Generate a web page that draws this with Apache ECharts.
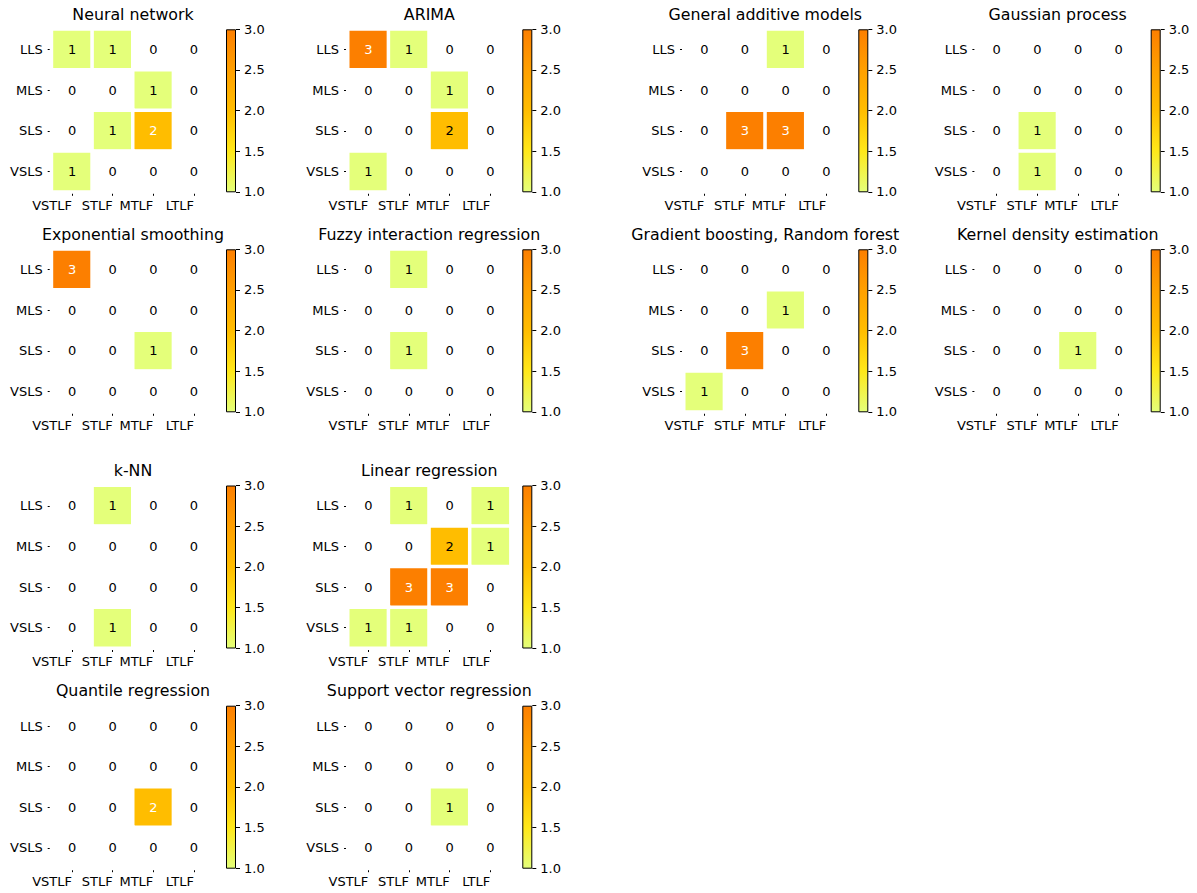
<!DOCTYPE html>
<html>
<head>
<meta charset="utf-8">
<script src="https://cdn.jsdelivr.net/npm/echarts@6/dist/echarts.min.js"></script>
<style>
html,body{margin:0;padding:0;background:#fff;}
#c{width:1197px;height:893px;}
</style>
</head>
<body>
<div id="c"></div>
<script>
// ---- data ----
const xCats = ['VSTLF', 'STLF', 'MTLF', 'LTLF'];
const yCats = ['LLS', 'MLS', 'SLS', 'VSLS'];
const panelTitles = [
  'Neural network', 'ARIMA', 'General additive models', 'Gaussian process',
  'Exponential smoothing', 'Fuzzy interaction regression', 'Gradient boosting, Random forest', 'Kernel density estimation',
  'k-NN', 'Linear regression',
  'Quantile regression', 'Support vector regression'
];
// rows: LLS, MLS, SLS, VSLS ; cols: VSTLF, STLF, MTLF, LTLF
const neuralNetwork = [[1,1,0,0],[0,0,1,0],[0,1,2,0],[1,0,0,0]];
const arima = [[3,1,0,0],[0,0,1,0],[0,0,2,0],[1,0,0,0]];
const generalAdditive = [[0,0,1,0],[0,0,0,0],[0,3,3,0],[0,0,0,0]];
const gaussianProcess = [[0,0,0,0],[0,0,0,0],[0,1,0,0],[0,1,0,0]];
const expSmoothing = [[3,0,0,0],[0,0,0,0],[0,0,1,0],[0,0,0,0]];
const fuzzyInteraction = [[0,1,0,0],[0,0,0,0],[0,1,0,0],[0,0,0,0]];
const gradientBoosting = [[0,0,0,0],[0,0,1,0],[0,3,0,0],[1,0,0,0]];
const kernelDensity = [[0,0,0,0],[0,0,0,0],[0,0,1,0],[0,0,0,0]];
const knn = [[0,1,0,0],[0,0,0,0],[0,0,0,0],[0,1,0,0]];
const linearRegression = [[0,1,0,1],[0,0,2,1],[0,3,3,0],[1,1,0,0]];
const quantileRegression = [[0,0,0,0],[0,0,0,0],[0,0,2,0],[0,0,0,0]];
const svr = [[0,0,0,0],[0,0,0,0],[0,0,1,0],[0,0,0,0]];
const panelValues = [neuralNetwork, arima, generalAdditive, gaussianProcess,
  expSmoothing, fuzzyInteraction, gradientBoosting, kernelDensity,
  knn, linearRegression, quantileRegression, svr];
const cbarTicks = [1.0, 1.5, 2.0, 2.5, 3.0];

// ---- style / layout ----
const wistia = ['#e4ff7a', '#ffe81a', '#ffbd00', '#ffa000', '#fc7f00'];
const FONT = 'DejaVu Sans';
const colLefts = [51.7, 348, 684, 976.4];
const rowTops = [29.3, 249.3, 485.5, 705.7];
const panelPos = [[0,0],[0,1],[0,2],[0,3],[1,0],[1,1],[1,2],[1,3],[2,0],[2,1],[3,0],[3,1]];
const GW = 162.6, GH = 162.5, CB_OFF = 174.3, CB_W = 10;

const grid = [], xAxis = [], yAxis = [], series = [], title = [];
const heatIdx = [];

panelValues.forEach((vals, p) => {
  const [r, c] = panelPos[p];
  const left = colLefts[c], top = rowTops[r];
  let maxV = 0;
  vals.forEach(row => row.forEach(v => { if (v > maxV) maxV = v; }));
  // heatmap grid
  const gi = grid.length;
  grid.push({left: left, top: top, width: GW, height: GH, containLabel: false});
  xAxis.push({
    type: 'category', data: xCats, gridIndex: gi, position: 'bottom',
    axisLine: {show: false},
    axisTick: {show: true, alignWithLabel: true, length: 4, lineStyle: {color: '#000', width: 1}},
    axisLabel: {align: 'right', margin: 7, fontSize: 13, color: '#000', fontFamily: FONT, interval: 0},
    splitLine: {show: false}, splitArea: {show: false}
  });
  yAxis.push({
    type: 'category', data: yCats, gridIndex: gi, inverse: true,
    axisLine: {show: false},
    axisTick: {show: true, alignWithLabel: true, length: 4, lineStyle: {color: '#000', width: 1}},
    axisLabel: {margin: 9, fontSize: 13, color: '#000', fontFamily: FONT, interval: 0},
    splitLine: {show: false}, splitArea: {show: false}
  });
  const data = [];
  vals.forEach((row, ri) => row.forEach((v, ci) => {
    data.push({
      value: [ci, ri, v],
      label: {color: (v === maxV && v >= 2) ? '#ffffff' : '#000000'}
    });
  }));
  heatIdx.push(series.length);
  series.push({
    type: 'heatmap', xAxisIndex: gi, yAxisIndex: gi, data: data,
    itemStyle: {borderColor: '#ffffff', borderWidth: 3.5},
    label: {show: true, fontSize: 13, fontFamily: FONT, formatter: (pp) => String(pp.value[2])},
    emphasis: {disabled: true}
  });
  // colorbar grid
  const ci2 = grid.length;
  grid.push({left: left + CB_OFF, top: top, width: CB_W, height: GH, containLabel: false});
  xAxis.push({type: 'category', data: [''], gridIndex: ci2, show: false});
  yAxis.push({
    type: 'value', gridIndex: ci2, position: 'right',
    min: cbarTicks[0], max: cbarTicks[cbarTicks.length - 1], interval: cbarTicks[1] - cbarTicks[0],
    axisLine: {show: false},
    axisTick: {show: true, length: 4, lineStyle: {color: '#000', width: 1}},
    axisLabel: {margin: 8, fontSize: 13, lineHeight: 13, color: '#000', fontFamily: FONT, formatter: v => v.toFixed(1)},
    splitLine: {show: false}
  });
  series.push({
    type: 'bar', xAxisIndex: ci2, yAxisIndex: ci2, data: [cbarTicks[cbarTicks.length - 1]],
    barWidth: '100%', clip: true, silent: true,
    itemStyle: {
      color: new echarts.graphic.LinearGradient(0, 0, 0, 1, [
        {offset: 0, color: wistia[4]}, {offset: 0.25, color: wistia[3]},
        {offset: 0.5, color: wistia[2]}, {offset: 0.75, color: wistia[1]},
        {offset: 1, color: wistia[0]}
      ]),
      borderColor: '#000', borderWidth: 1
    }
  });
  title.push({
    text: panelTitles[p], left: left + GW / 2, top: top - 15.2,
    textAlign: 'center', textVerticalAlign: 'middle', padding: 0,
    textStyle: {fontSize: 15.8, lineHeight: 15, fontWeight: 'normal', color: '#000', fontFamily: FONT}
  });
});

const chart = echarts.init(document.getElementById('c'), null, {renderer: 'svg', width: 1197, height: 893});
chart.setOption({
  backgroundColor: '#ffffff',
  animation: false,
  textStyle: {fontFamily: FONT},
  title: title,
  grid: grid,
  xAxis: xAxis,
  yAxis: yAxis,
  visualMap: [{
    type: 'continuous', show: false, min: 0.999, max: 3, range: [1, 3], dimension: 2,
    seriesIndex: heatIdx,
    inRange: {color: wistia},
    outOfRange: {color: '#ffffff'}
  }],
  series: series
});
</script>
</body>
</html>
